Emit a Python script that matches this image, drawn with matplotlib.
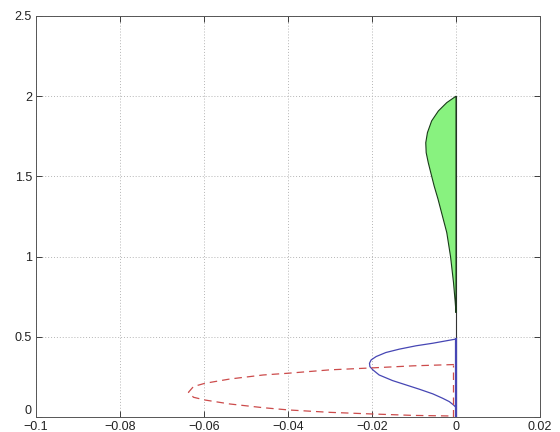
import matplotlib
matplotlib.use("Agg")
import matplotlib.pyplot as plt

plt.rcParams['font.family'] = ['Liberation Sans', 'DejaVu Sans']

# Green region: left boundary, from the top down to the axis x = 0
green_x = [0.0, -0.0022, -0.0042, -0.0058, -0.0068, -0.0072, -0.0071, -0.0066,
           -0.0058, -0.0052, -0.0043, -0.0033, -0.0022, -0.0013, -0.0006, -0.0002, 0.0]
green_y = [2.0, 1.96, 1.908, 1.846, 1.773, 1.71, 1.648, 1.585,
           1.502, 1.44, 1.36, 1.26, 1.15, 1.0, 0.84, 0.72, 0.65]

# Blue solid loop, top end to bottom end
blue_x = [0.0, -0.0055, -0.0095, -0.0135, -0.0167, -0.019, -0.0202, -0.0206,
          -0.0205, -0.0198, -0.0183, -0.0151, -0.0119, -0.0087, -0.0055, -0.0032,
          -0.0016, -0.0006, 0.0]
blue_y = [0.486, 0.46, 0.444, 0.423, 0.402, 0.377, 0.356, 0.335,
          0.314, 0.294, 0.262, 0.227, 0.2, 0.173, 0.144, 0.117,
          0.096, 0.075, 0.06]
blue_axis_top = 0.486

# Red dashed loop, upper branch then lower branch
red_x = [-0.0005, -0.0102, -0.0201, -0.03, -0.0399, -0.0459, -0.0538, -0.0598, -0.0625,
         -0.0637, -0.0625, -0.0598, -0.0538, -0.0459, -0.0399, -0.03, -0.0201, -0.0102,
         -0.0005]
red_y = [0.327, 0.319, 0.306, 0.294, 0.273, 0.262, 0.237, 0.21, 0.19,
         0.154, 0.123, 0.106, 0.081, 0.058, 0.044, 0.029, 0.019, 0.01,
         0.006]
red_edge_x = -0.0006

x_ticks = [-0.1, -0.08, -0.06, -0.04, -0.02, 0, 0.02]
x_labels = ['\u22120.1', '\u22120.08', '\u22120.06', '\u22120.04', '\u22120.02', '0', '0.02']
y_ticks = [0, 0.5, 1, 1.5, 2, 2.5]
y_labels = ['0', '0.5', '1', '1.5', '2', '2.5']

fig = plt.figure(figsize=(5.6, 4.32), dpi=100)
ax = fig.add_axes([36 / 560, 15 / 432, 504 / 560, 401 / 432])

ax.fill(green_x, green_y, facecolor='#88f27f', edgecolor='#1a3a1a', linewidth=0.8, zorder=3)
ax.plot([0, 0], [0, 2.0], color='#333333', linewidth=0.8, zorder=2)

ax.plot(blue_x, blue_y, color='#4646b4', linewidth=0.9, zorder=4)
ax.plot([0, 0], [0, blue_axis_top], color='#4646b4', linewidth=1.6, zorder=4)

ax.plot(red_x, red_y, color='#cc4b4b', linewidth=0.9, dashes=(6, 4), zorder=4)
ax.plot([red_edge_x, red_edge_x], [0, red_y[0]], color='#cc4b4b', linewidth=0.9,
        dashes=(6, 4), zorder=4)

ax.set_xlim(-0.1, 0.02)
ax.set_ylim(0, 2.5)
ax.set_xticks(x_ticks)
ax.set_xticklabels(x_labels)
ax.set_yticks(y_ticks)
ax.set_yticklabels(y_labels)

ax.grid(True, color='#b5b5b5', linestyle=(0, (1, 2)), linewidth=0.7)
ax.set_axisbelow(True)
ax.tick_params(direction='in', length=4, width=0.6, top=True, right=True,
               labelsize=9, colors='#222222', pad=3)
# lift the bottom y label so it sits above the first x label
ax.get_yticklabels()[0].set_verticalalignment('bottom')
for s in ax.spines.values():
    s.set_color('#555555')
    s.set_linewidth(0.7)

fig.savefig('out.png', dpi=100, facecolor='white')
